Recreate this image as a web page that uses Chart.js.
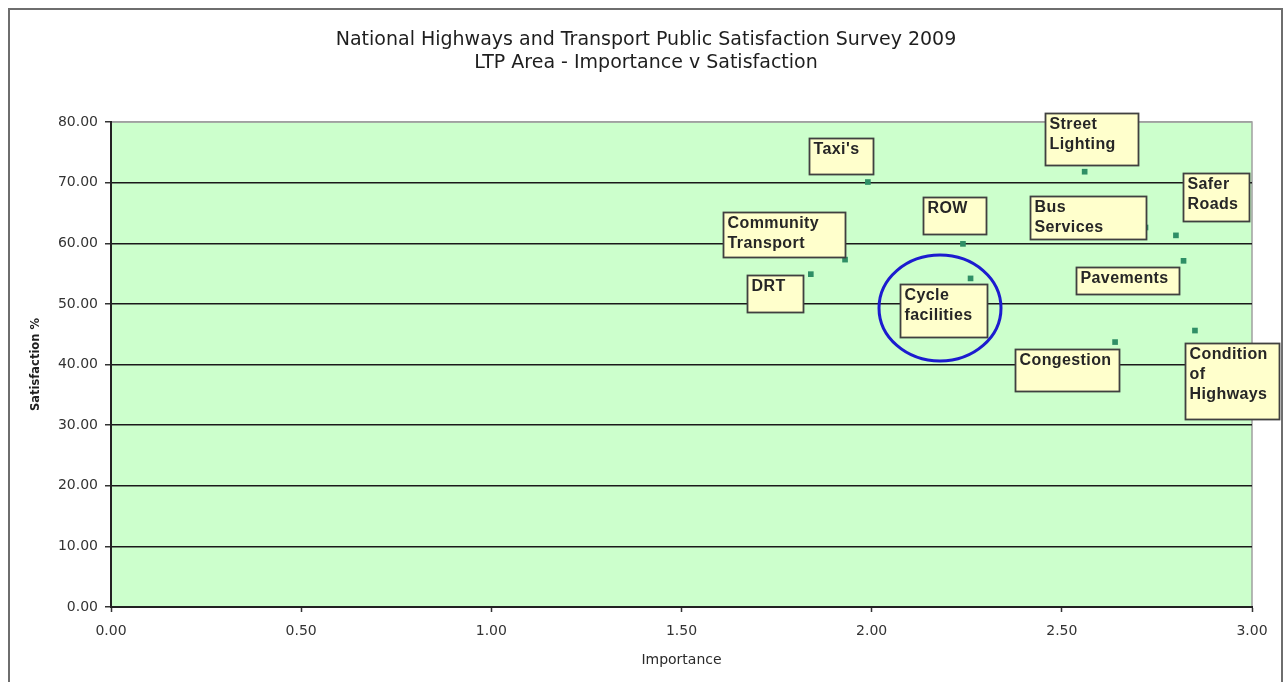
<!DOCTYPE html>
<html>
<head>
<meta charset="utf-8">
<title>National Highways and Transport Public Satisfaction Survey 2009</title>
<script src="https://cdn.jsdelivr.net/npm/chart.js@4.4.1/dist/chart.umd.min.js"></script>
<style>
  html, body { margin: 0; padding: 0; background: #fff; }
  #wrap { width: 1285px; height: 682px; }
</style>
</head>
<body>
<div id="wrap"><canvas id="stats" width="1285" height="682"></canvas></div>
<script>
const categories = [
  "Taxi's", "Street Lighting", "Safer Roads", "Bus Services", "ROW",
  "Community Transport", "DRT", "Cycle facilities", "Pavements",
  "Congestion", "Condition of Highways",
];
const importance = [1.99, 2.56, 2.80, 2.72, 2.24, 1.93, 1.84, 2.26, 2.82, 2.64, 2.85];
const satisfaction = [70.1, 71.8, 61.3, 62.6, 59.9, 57.3, 54.9, 54.2, 57.1, 43.7, 45.6];
const xTicks = [0, 0.5, 1, 1.5, 2, 2.5, 3];
const yTicks = [0, 10, 20, 30, 40, 50, 60, 70, 80];
const titleLines = [
  "National Highways and Transport Public Satisfaction Survey 2009",
  "LTP Area - Importance v Satisfaction",
];

(function () {
  // callout boxes, placed relative to their point (px)
  const labelBoxes = [
    { dx: -59, dy: -44, w: 64, h: 36 },
    { dx: -40, dy: -59, w: 93, h: 52 },
    { dx: 7, dy: -62, w: 66, h: 48 },
    { dx: -116, dy: -31, w: 116, h: 43 },
    { dx: -40, dy: -47, w: 63, h: 37 },
    { dx: -122, dy: -48, w: 122, h: 45 },
    { dx: -64, dy: 1, w: 56, h: 37 },
    { dx: -71, dy: 6, w: 87, h: 53 },
    { dx: -108, dy: 6, w: 103, h: 27 },
    { dx: -100, dy: 7, w: 104, h: 42 },
    { dx: -10, dy: 12, w: 94, h: 76 },
  ];
  const highlighted = "Cycle facilities";

  const fmt = (v) => Number(v).toFixed(2);

  const background = {
    id: "background",
    beforeDraw: (chart) => {
      const { ctx, width, height, chartArea: { top, bottom, left, right } } = chart;
      ctx.save();
      ctx.fillStyle = "#ffffff";
      ctx.fillRect(0, 0, width, height);
      // outer frame
      ctx.strokeStyle = "#6e6e6e";
      ctx.lineWidth = 2;
      ctx.strokeRect(9, 9, width - 12, height + 20);
      // plot area
      ctx.fillStyle = "#ccffcc";
      ctx.fillRect(left, top, right - left, bottom - top);
      ctx.strokeStyle = "#a0a0a0";
      ctx.lineWidth = 1.5;
      ctx.beginPath();
      ctx.moveTo(left, top);
      ctx.lineTo(right, top);
      ctx.lineTo(right, bottom);
      ctx.stroke();
      ctx.restore();
    },
    // two-line heading, centred on the whole frame
    afterDraw: (chart) => {
      const { ctx } = chart;
      ctx.save();
      ctx.font = "19px 'DejaVu Sans', sans-serif";
      ctx.fillStyle = "#1e1e1e";
      ctx.textAlign = "center";
      ctx.textBaseline = "middle";
      titleLines.forEach((line, i) => ctx.fillText(line, 646, 40 + i * 23));
      ctx.restore();
    },
  };

  const callouts = {
    id: "callouts",
    afterDatasetsDraw: (chart) => {
      const { ctx } = chart;
      const points = chart.getDatasetMeta(0).data;
      ctx.save();
      ctx.font = "bold 16px 'Liberation Sans', Arial, sans-serif";
      if ("letterSpacing" in ctx) ctx.letterSpacing = "0.4px";
      ctx.textBaseline = "alphabetic";
      ctx.textAlign = "left";
      let ring = null;
      categories.forEach((name, i) => {
        const b = labelBoxes[i];
        const x = Math.round(points[i].x + b.dx) + 0.5;
        const y = Math.round(points[i].y + b.dy) + 0.5;
        ctx.fillStyle = "#ffffcc";
        ctx.fillRect(x, y, b.w, b.h);
        ctx.strokeStyle = "#404040";
        ctx.lineWidth = 1.8;
        ctx.strokeRect(x, y, b.w, b.h);
        ctx.fillStyle = "#262626";
        name.split(" ").forEach((line, j) => {
          ctx.fillText(line, x + 4, y + 15 + j * 20);
        });
        if (name === highlighted) ring = { cx: x + b.w / 2 - 4, cy: y + b.h / 2 - 3 };
      });
      if (ring) {
        ctx.strokeStyle = "#1c1ccf";
        ctx.lineWidth = 3;
        ctx.beginPath();
        ctx.ellipse(ring.cx, ring.cy, 61, 53, 0, 0, Math.PI * 2);
        ctx.stroke();
      }
      ctx.restore();
    },
  };

  const ctx = document.getElementById("stats").getContext("2d");

  const dataForChart = {
    datasets: [
      {
        label: "LTP Area",
        data: importance.map((v, i) => ({ x: v, y: satisfaction[i] })),
        backgroundColor: "#2f8f66",
        borderWidth: 0,
        pointStyle: "rect",
        pointRadius: 4,
      },
    ],
  };

  const options = {
    responsive: false,
    animation: false,
    layout: { padding: { top: 122, left: 0, right: 33, bottom: 0 } },
    scales: {
      x: {
        type: "linear",
        min: 0,
        max: 3,
        afterBuildTicks: (scale) => {
          scale.ticks = xTicks.map((v) => ({ value: v }));
        },
        afterFit: (scale) => {
          scale.height = 75;
        },
        grid: {
          drawOnChartArea: false,
          drawTicks: true,
          tickLength: 5,
          tickColor: "#333",
          tickWidth: 1.5,
        },
        border: { display: true, color: "#222", width: 2 },
        ticks: {
          callback: fmt,
          color: "#333",
          padding: 11,
          maxRotation: 0,
          font: { family: "'DejaVu Sans', sans-serif", size: 14 },
        },
        title: {
          display: true,
          text: "Importance",
          color: "#2a2a2a",
          padding: { top: 0, bottom: 13 },
          font: { family: "'DejaVu Sans', sans-serif", size: 14 },
        },
      },
      y: {
        type: "linear",
        min: 0,
        max: 80,
        afterBuildTicks: (scale) => {
          scale.ticks = yTicks.map((v) => ({ value: v }));
        },
        afterFit: (scale) => {
          scale.width = 111;
        },
        grid: {
          color: (c) => (c.tick && c.tick.value === 80 ? "#a0a0a0" : "#1a1a1a"),
          lineWidth: 1.5,
          tickLength: 6,
          tickColor: "#333",
          tickWidth: 1.5,
        },
        border: { display: true, color: "#222", width: 2 },
        ticks: {
          callback: fmt,
          color: "#333",
          padding: 7,
          font: { family: "'DejaVu Sans', sans-serif", size: 14 },
        },
        title: {
          display: true,
          text: "Satisfaction %",
          color: "#1e1e1e",
          padding: { top: 29, bottom: 0 },
          font: { family: "'DejaVu Sans', sans-serif", size: 11.5, weight: "bold" },
        },
      },
    },
    plugins: {
      legend: { display: false },
      tooltip: { enabled: false },
      title: { display: false },
    },
  };

  new Chart(ctx, {
    type: "scatter",
    data: dataForChart,
    options: options,
    plugins: [background, callouts],
  });
})();
</script>
</body>
</html>
